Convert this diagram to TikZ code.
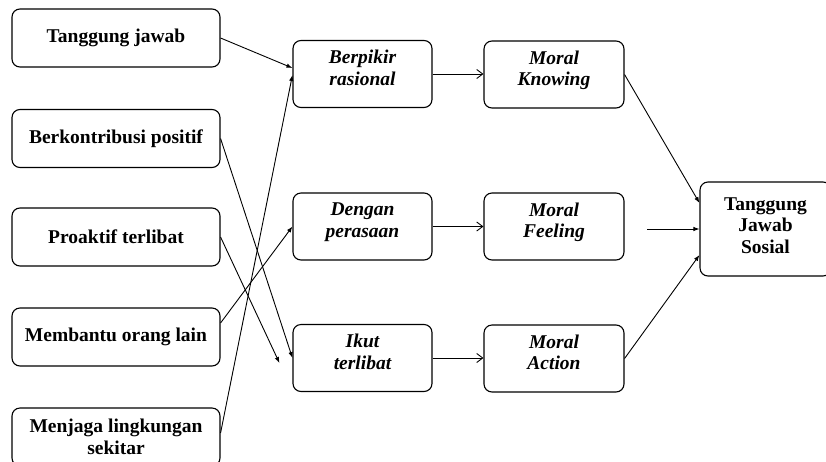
\documentclass[tikz,border=0pt]{standalone}
\usepackage{fontspec}
\setmainfont{Liberation Serif}
\usetikzlibrary{arrows.meta}
\usetikzlibrary{positioning}

\begin{document}
\begin{tikzpicture}[x=1pt,y=-1pt,
  kotak/.style={draw,rounded corners=8pt,line width=1.1pt,inner sep=0pt,align=center,
    font=\fontsize{19.5}{21.5}\selectfont\bfseries},
  faktor/.style={kotak,minimum width=208pt,minimum height=58pt},
  proses/.style={kotak,minimum width=139pt,minimum height=67pt,text depth=13pt,
    font=\fontsize{19.5}{21.5}\selectfont\bfseries\itshape},
  hasil/.style={kotak,minimum width=131pt,minimum height=94pt,text depth=7pt},
  panah/.style={line width=0.9pt,-{Latex[length=6pt,width=4.5pt]}},
  panahbuka/.style={line width=0.9pt,-{Straight Barb[length=6pt,width=9pt]}}]
\useasboundingbox (0,0) rectangle (826,461);

\node[faktor] (A1) at (116,38) {Tanggung jawab};
\node[faktor] (A2) at (116,138.5) {Berkontribusi positif};
\node[faktor] (A3) at (116,237) {Proaktif terlibat};
\node[faktor] (A4) at (116,337) {Membantu orang lain};
\node[faktor] (A5) at (116,437) {Menjaga lingkungan\\sekitar};

\node[proses] (B1) at (362.5,74) {Berpikir\\rasional};
\node[proses] (B2) at (362.5,226.5) {Dengan\\perasaan};
\node[proses] (B3) at (362.5,358) {Ikut\\terlibat};

\node[proses,minimum width=140pt] (C1) at (554,74.5) {Moral\\Knowing};
\node[proses,minimum width=140pt] (C2) at (554,226.5) {Moral\\Feeling};
\node[proses,minimum width=140pt] (C3) at (554,358.5) {Moral\\Action};

\node[hasil] (D) at (765.5,229) {Tanggung\\Jawab\\Sosial};

\draw[panah] (A1.east) -- ([yshift=6pt]B1.west);
\draw[panah] (A2.east) -- (B3.west);
\draw[panah] (A3.east) -- ([xshift=-13pt,yshift=-5pt]B3.west);
\draw[panah] ([yshift=14pt]A4.east) -- (B2.west);
\draw[panah] ([yshift=4pt]A5.east) -- ([yshift=-1pt]B1.west);

\draw[panahbuka] (B1.east) -- (B1.east -| C1.west);
\draw[panahbuka] (B2.east) -- (B2.east -| C2.west);
\draw[panahbuka] (B3.east) -- (B3.east -| C3.west);

\coordinate (E) at (647,229);
\draw[panah] (C1.east) -- ([yshift=26pt]D.west);
\draw[panah] (E) -- (E -| D.west);
\draw[panah] (C3.east) -- ([yshift=-26pt]D.west);

\end{tikzpicture}
\end{document}
